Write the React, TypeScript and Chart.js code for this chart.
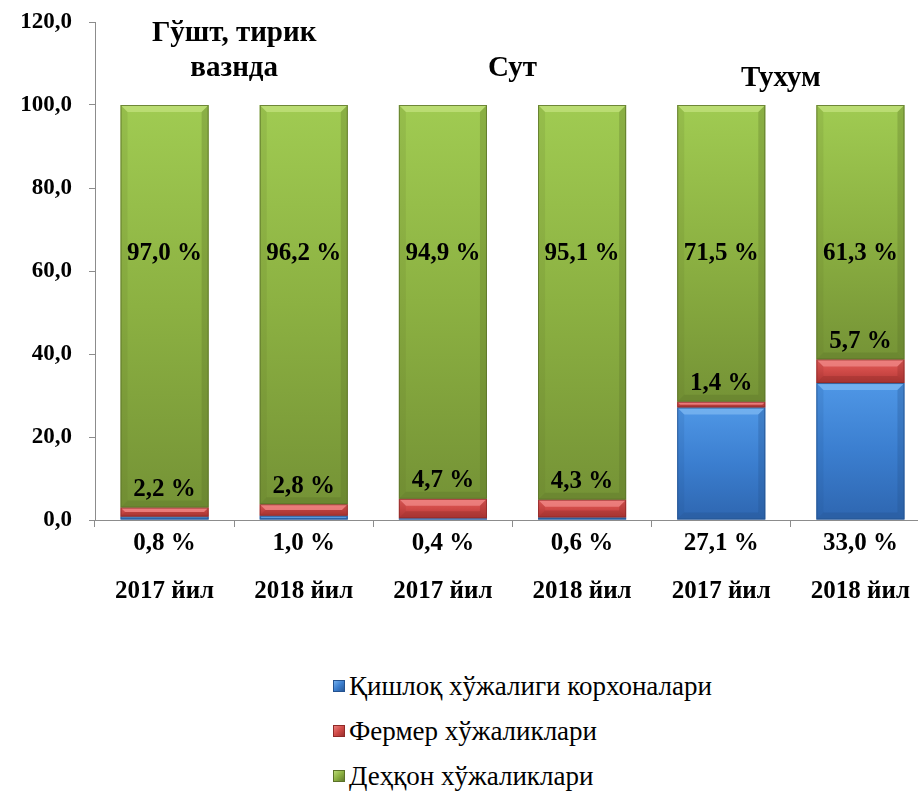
import React, { useEffect, useRef } from 'react';
import { Chart, registerables } from 'chart.js';

Chart.register(...registerables);

// ---- data ----
const categories = ['2017 йил', '2018 йил', '2017 йил', '2018 йил', '2017 йил', '2018 йил'];
const seriesNames = ['Қишлоқ хўжалиги корхоналари', 'Фермер хўжаликлари', 'Деҳқон хўжаликлари'];
const agriEnterprises = [0.8, 1.0, 0.4, 0.6, 27.1, 33.0];
const farmers = [2.2, 2.8, 4.7, 4.3, 1.4, 5.7];
const dehkan = [97.0, 96.2, 94.9, 95.1, 71.5, 61.3];
const groupTitles = [['Гўшт, тирик', 'вазнда'], ['Сут'], ['Тухум']];
const groupRanges = [[0, 1], [2, 3], [4, 5]];
const yTickValues = [0, 20, 40, 60, 80, 100, 120];

const SERIES = [agriEnterprises, farmers, dehkan];

// ---- styling / layout ----
const FONT = '"Liberation Serif", "Times New Roman", serif';
const AXIS_GREY = '#8c8c8c';
const PALETTES = [
  { top: '#4f97e6', mid: '#3b7ecf', bottom: '#2e66b0', edge: '#24528f', light: '#7db8f2' },
  { top: '#e25f5c', mid: '#d04a47', bottom: '#b13836', edge: '#8f2a28', light: '#f08a88' },
  { top: '#a0cb52', mid: '#8cb142', bottom: '#759336', edge: '#5b7229', light: '#c3e27e' },
];
const TITLE_LAYOUT = [
  { v: 108.9, dx: 0 },
  { v: 108.9, dx: 0 },
  { v: 106.5, dx: -10 },
];
const GREEN_LABEL_VALUE = 64.3;
const RED_LABEL_OFFSET = 18;
const BLUE_LABEL_OFFSET = 24;

const fmt = (v: number) => v.toFixed(1).replace('.', ',');
const pct = (v: number) => fmt(v) + ' %';

function segGradient(ctx: any, s: number) {
  const pal = PALETTES[s];
  const chart = ctx.chart;
  const y = chart && chart.scales ? chart.scales.y : null;
  if (!y || ctx.type !== 'data') return pal.mid;
  const i = ctx.dataIndex;
  let start = 0;
  for (let k = 0; k < s; k++) start += SERIES[k][i];
  const end = start + SERIES[s][i];
  const y0 = y.getPixelForValue(end);
  const y1 = y.getPixelForValue(start);
  if (!isFinite(y0) || !isFinite(y1) || y1 - y0 < 1) return pal.mid;
  const g = chart.ctx.createLinearGradient(0, y0, 0, y1);
  g.addColorStop(0, pal.top);
  g.addColorStop(0.5, pal.mid);
  g.addColorStop(1, pal.bottom);
  return g;
}

const bevelPlugin = {
  id: 'bevel',
  afterDatasetsDraw(chart: any) {
    const ctx = chart.ctx;
    chart.data.datasets.forEach((_: any, s: number) => {
      const meta = chart.getDatasetMeta(s);
      const pal = PALETTES[s];
      meta.data.forEach((el: any) => {
        const w = el.width;
        const left = el.x - w / 2;
        const right = el.x + w / 2;
        const top = Math.min(el.y, el.base);
        const bottom = Math.max(el.y, el.base);
        const h = bottom - top;
        if (h < 0.5) return;
        const b = Math.min(7, h / 2);
        ctx.save();
        ctx.beginPath();
        ctx.moveTo(left, top);
        ctx.lineTo(right, top);
        ctx.lineTo(right - b, top + b);
        ctx.lineTo(left + b, top + b);
        ctx.closePath();
        ctx.fillStyle = pal.light;
        ctx.globalAlpha = 0.75;
        ctx.fill();
        ctx.beginPath();
        ctx.moveTo(left, bottom);
        ctx.lineTo(right, bottom);
        ctx.lineTo(right - b, bottom - b);
        ctx.lineTo(left + b, bottom - b);
        ctx.closePath();
        ctx.fillStyle = pal.edge;
        ctx.globalAlpha = 0.35;
        ctx.fill();
        ctx.beginPath();
        ctx.moveTo(left, top);
        ctx.lineTo(left + b, top + b);
        ctx.lineTo(left + b, bottom - b);
        ctx.lineTo(left, bottom);
        ctx.closePath();
        ctx.fillStyle = pal.edge;
        ctx.globalAlpha = 0.15;
        ctx.fill();
        ctx.beginPath();
        ctx.moveTo(right, top);
        ctx.lineTo(right - b, top + b);
        ctx.lineTo(right - b, bottom - b);
        ctx.lineTo(right, bottom);
        ctx.closePath();
        ctx.fillStyle = pal.edge;
        ctx.globalAlpha = 0.3;
        ctx.fill();
        ctx.globalAlpha = 0.8;
        ctx.strokeStyle = pal.edge;
        ctx.lineWidth = 1;
        ctx.strokeRect(left + 0.5, top + 0.5, w - 1, h - 1);
        ctx.restore();
      });
    });
  },
};

const labelPlugin = {
  id: 'customLabels',
  afterDraw(chart: any) {
    const ctx = chart.ctx;
    const yS = chart.scales.y;
    const xS = chart.scales.x;
    ctx.save();
    ctx.fillStyle = '#000';
    ctx.textAlign = 'center';
    ctx.textBaseline = 'middle';
    ctx.font = `bold 25px ${FONT}`;
    const m0 = chart.getDatasetMeta(0);
    m0.data.forEach((el: any, i: number) => {
      ctx.fillText(pct(agriEnterprises[i]), el.x, yS.bottom + BLUE_LABEL_OFFSET);
    });
    const m1 = chart.getDatasetMeta(1);
    m1.data.forEach((el: any, i: number) => {
      ctx.fillText(pct(farmers[i]), el.x, Math.min(el.y, el.base) - RED_LABEL_OFFSET);
    });
    const m2 = chart.getDatasetMeta(2);
    m2.data.forEach((el: any, i: number) => {
      ctx.fillText(pct(dehkan[i]), el.x, yS.getPixelForValue(GREEN_LABEL_VALUE));
    });
    ctx.font = `bold 29px ${FONT}`;
    groupTitles.forEach((lines, g) => {
      const [a, b] = groupRanges[g];
      const cx = (xS.getPixelForValue(a) + xS.getPixelForValue(b)) / 2 + TITLE_LAYOUT[g].dx;
      const by = yS.getPixelForValue(TITLE_LAYOUT[g].v);
      const n = lines.length;
      lines.forEach((t, k) => {
        ctx.fillText(t, cx, by - (n - 1 - k) * 35);
      });
    });
    ctx.restore();
  },
};

const legendSwatch = (s: number) =>
  `linear-gradient(135deg, ${PALETTES[s].light} 0%, ${PALETTES[s].mid} 50%, ${PALETTES[s].edge} 100%)`;

export default function App() {
  const canvasRef = useRef<HTMLCanvasElement | null>(null);

  useEffect(() => {
    document.body.style.overflow = 'hidden';
    const canvas = canvasRef.current;
    if (!canvas) return;
    const chart = new Chart(canvas, {
      type: 'bar',
      data: {
        labels: categories,
        datasets: SERIES.map((vals, s) => ({
          label: seriesNames[s],
          data: vals,
          backgroundColor: (c: any) => segGradient(c, s),
          borderWidth: 0,
          barPercentage: 0.633,
          categoryPercentage: 1,
        })),
      },
      options: {
        animation: false,
        responsive: false,
        devicePixelRatio: 1,
        layout: { padding: { top: 22, right: 0, bottom: 20, left: 0 } },
        plugins: {
          legend: { display: false },
          tooltip: { enabled: false },
          title: { display: false },
        },
        scales: {
          x: {
            stacked: true,
            afterFit: (sc: any) => { sc.height = 100; },
            grid: {
              offset: true,
              drawOnChartArea: false,
              drawTicks: true,
              tickLength: 7,
              color: AXIS_GREY,
            },
            border: { display: true, color: AXIS_GREY, width: 1 },
            ticks: {
              color: '#000',
              padding: 0,
              font: { family: FONT, size: 25, weight: 'bold', lineHeight: '130px' },
              maxRotation: 0,
              autoSkip: false,
            },
          },
          y: {
            stacked: true,
            min: yTickValues[0],
            max: yTickValues[yTickValues.length - 1],
            afterFit: (sc: any) => {
              sc.width = 95;
              sc.paddingTop = 0;
              sc.paddingBottom = 0;
            },
            afterBuildTicks: (sc: any) => {
              sc.ticks = yTickValues.map((v) => ({ value: v }));
            },
            grid: {
              drawOnChartArea: false,
              drawTicks: true,
              tickLength: 6,
              color: AXIS_GREY,
            },
            border: { display: true, color: AXIS_GREY, width: 1 },
            ticks: {
              color: '#000',
              padding: 17,
              font: { family: FONT, size: 23, weight: 'bold' },
              callback: (v: any) => fmt(Number(v)),
            },
          },
        },
      },
      plugins: [bevelPlugin, labelPlugin],
    } as any);
    return () => chart.destroy();
  }, []);

  const legendTops = [686, 731, 776];

  return (
    <div
      style={{
        position: 'fixed',
        left: 0,
        top: 0,
        width: 930,
        height: 792,
        overflow: 'hidden',
        background: '#fff',
      }}
    >
      <canvas ref={canvasRef} width={930} height={640} style={{ display: 'block' }} />
      {seriesNames.map((name, s) => (
        <div
          key={name}
          style={{
            position: 'absolute',
            left: 333,
            top: legendTops[s] - 15,
            height: 30,
            display: 'flex',
            alignItems: 'center',
            fontFamily: FONT,
            fontSize: 27,
            color: '#000',
            whiteSpace: 'nowrap',
          }}
        >
          <span
            style={{
              display: 'inline-block',
              width: 12,
              height: 12,
              marginRight: 4,
              background: legendSwatch(s),
              boxShadow: `inset 0 0 0 1px ${PALETTES[s].edge}`,
            }}
          />
          {name}
        </div>
      ))}
    </div>
  );
}
